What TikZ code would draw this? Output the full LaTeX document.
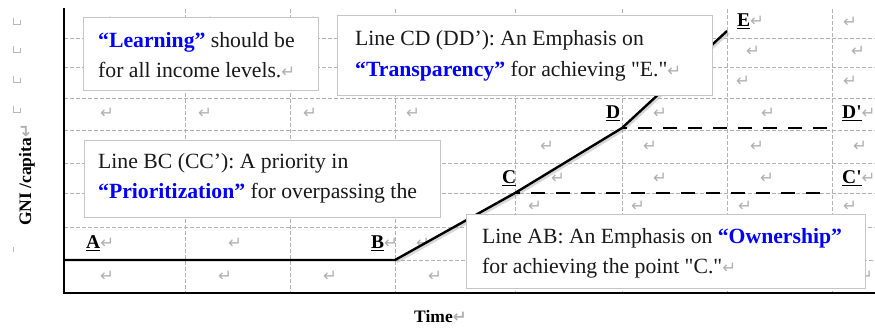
\documentclass[tikz,border=0pt]{standalone}
\usepackage{fontspec}
\setmainfont{Liberation Serif}
\newfontfamily\symfont{DejaVu Sans}

% paragraph mark, highlighted keyword, point label
\newcommand\retmark{{\color{gray!62}\symfont\fontsize{16.5}{16.5}\selectfont ↵}}
\newcommand\hlword[1]{\textbf{\color{blue}“#1”}}
\newcommand\ptlab[1]{\underline{\textbf{#1}}}

\begin{document}
\begin{tikzpicture}[x=1pt,y=-1pt,
  gridline/.style={draw=gray!60, line width=0.8pt, dash pattern=on 3.5pt off 2.5pt},
  axisline/.style={draw=black, line width=2pt},
  growth/.style={draw=black, line width=2.4pt, line join=round},
  growthshadow/.style={draw=gray!70, line width=2.6pt, opacity=0.45, line join=round},
  guide/.style={draw=black, line width=2.4pt, dash pattern=on 14pt off 11pt, dash phase=9pt},
  retnode/.style={inner sep=0pt},
  ptnode/.style={inner sep=0pt, anchor=west, font=\fontsize{19.5}{20}\selectfont},
  notebox/.style={draw=gray!45, fill=white, line width=0.9pt, anchor=north west, inner sep=0pt},
  noteline/.style={anchor=base west, inner sep=0pt, font=\fontsize{21.7}{30}\selectfont, text=black!90},
  axislabel/.style={font=\bfseries\fontsize{17.5}{18}\selectfont, inner sep=0pt},
  marginmark/.style={draw=gray!55, line width=0.7pt}]

\useasboundingbox (0,0) rectangle (875,327);

% dashed table grid
\foreach \gx in {185,290,395,515,622,727,832}
  \draw[gridline] (\gx,9) -- (\gx,293);
\foreach \gy in {38,67,98,130,163,193,227}
  \draw[gridline] (64,\gy) -- (875,\gy);
\draw[gridline] (395,260) -- (875,260);

% small row markers in the left margin
\foreach \my in {22,50,80,110}
  \draw[marginmark] (13,\my-4) -- (13,\my+2) -- (20,\my+2) -- (20,\my-2);
\draw[marginmark] (13,247) -- (13,252);

% paragraph marks in the cells
\foreach \rx/\ry [count=\k] in {
  107/22,207/22,310/22,850/22,
  753/51,858/51,
  743/81,850/81,
  107/113,205/113,310/113,413/113,660/113,768/113,
  547/146,650/146,757/146,860/146,
  558/178,660/178,767/178,
  535/206,638/206,745/206,850/206,
  235/243,423/243,
  107/276,225/276,330/276,435/276,866/276}
  \node[retnode] (ret\k) at (\rx,\ry) {\retmark};

% axes
\coordinate (Ytop) at (64,8);
\coordinate (O) at (64,293);
\coordinate (Xend) at (875,293);
\draw[axisline] (Ytop) -- (O) -- (Xend);

% points of the growth path
\coordinate (A0) at (64,260);
\coordinate (B) at (395,260);
\coordinate (C) at (515,193);
\coordinate (D) at (622,128);
\coordinate (E) at (727,31);
\coordinate (Cp) at (828,193);
\coordinate (Dp) at (828,128);

\draw[growthshadow] ([shift={(1.5,2)}]B) -- ([shift={(1.5,2)}]C) -- ([shift={(1.5,2)}]D) -- ([shift={(1.5,2)}]E);
\draw[growth] (A0) -- (B) -- (C) -- (D) -- (E);
\draw[guide] (C) -- (Cp);
\draw[guide] (D) -- (Dp);

% point labels
\node[ptnode] (labA) at (86,243) {\ptlab{A}\retmark};
\node[ptnode] (labB) at (371,243) {\ptlab{B}\retmark};
\node[ptnode] (labC) at (502,178) {\ptlab{C}};
\node[ptnode] (labD) at (606,113) {\ptlab{D}};
\node[ptnode] (labE) at (737,21) {\ptlab{E}\retmark};
\node[ptnode] (labDp) at (842,113) {\ptlab{D\textquotesingle}\retmark};
\node[ptnode] (labCp) at (842,178) {\ptlab{C\textquotesingle}\retmark};

% explanatory notes: frame first, then its two lines
\node[notebox, minimum width=235pt, minimum height=73pt] (learn) at (83,17) {};
\node[noteline] (learn1) at (98,47) {\hlword{Learning} should be};
\node[noteline] (learn2) at (98,77) {for all income levels.\retmark};

\node[notebox, minimum width=375pt, minimum height=80pt] (transp) at (337,15) {};
\node[noteline] (transp1) at (355,45) {Line CD (DD’): An Emphasis on};
\node[noteline] (transp2) at (355,76) {\hlword{Transparency} for achieving \textquotedbl E.\textquotedbl\retmark};

\node[notebox, minimum width=356pt, minimum height=77pt] (prior) at (84,140) {};
\node[noteline] (prior1) at (98,168) {Line BC (CC’): A priority in};
\node[noteline] (prior2) at (98,198) {\hlword{Prioritization} for overpassing the};

\node[notebox, minimum width=399pt, minimum height=74pt] (owner) at (466,214) {};
\node[noteline] (owner1) at (482,243) {Line AB: An Emphasis on \hlword{Ownership}};
\node[noteline] (owner2) at (482,273) {for achieving the point \textquotedbl C.\textquotedbl\retmark};

% axis titles
\node[axislabel, rotate=90] (ylab) at (27,175) {GNI /capita\retmark};
\node[axislabel, anchor=west] (xlab) at (414,317) {Time\retmark};

\end{tikzpicture}
\end{document}
